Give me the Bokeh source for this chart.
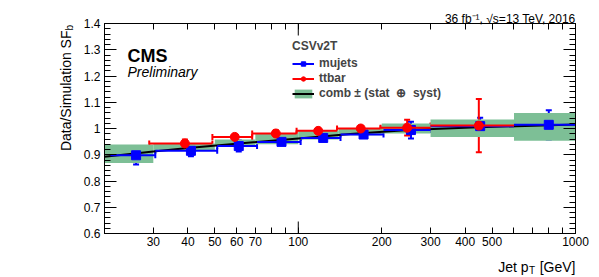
import math
from bokeh.plotting import figure
from bokeh.models import (ColumnDataSource, Whisker, TeeHead, FixedTicker, LogAxis,
                          LinearAxis, Label, Legend, LegendItem, Range1d)
from bokeh.embed import file_html
from bokeh.resources import INLINE

# ---------------- data ----------------
mujets_lo = [21, 30.5, 51, 71, 102, 142, 203, 300, 600]
mujets_hi = [30.5, 51, 71, 102, 142, 203, 300, 600, 1000]
mujets_pt = [26, 41, 61, 87, 123, 172, 255, 453, 801]
mujets_sf = [0.898, 0.915, 0.933, 0.949, 0.964, 0.977, 0.994, 1.009, 1.014]
mujets_err = [0.035, 0.021, 0.021, 0.011, 0.009, 0.010, 0.032, 0.032, 0.056]

ttbar_lo = [29, 49, 68.2, 98.6, 138, 198, 300]
ttbar_hi = [49, 68.2, 98.6, 138, 198, 300, 600]
ttbar_pt = [39, 59, 83, 118, 168, 247, 448]
ttbar_sf = [0.943, 0.968, 0.981, 0.991, 1.000, 1.003, 1.011]
ttbar_err = [0.015, 0.008, 0.012, 0.008, 0.010, 0.030, 0.101]

comb_lo = [20, 30, 50, 70, 100, 140, 200, 300, 600]
comb_hi = [30, 50, 70, 100, 140, 200, 300, 600, 1000]
comb_sf = [0.904, 0.930, 0.947, 0.960, 0.975, 0.987, 1.000, 1.001, 1.006]
comb_err = [0.035, 0.013, 0.011, 0.020, 0.017, 0.013, 0.019, 0.033, 0.053]

fit_pt = [20, 30, 40, 57, 100, 154, 250, 420, 1000]
fit_sf = [0.892, 0.912, 0.926, 0.940, 0.962, 0.979, 0.994, 1.004, 1.015]

x_ticks = [30, 40, 50, 60, 70, 100, 200, 300, 400, 500, 1000]
x_tick_labels = ["30", "40", "50", "60", "70", "100", "200", "300", "400", "500", "1000"]
x_minor_ticks = [80, 90, 600, 700, 800, 900]
x_long_ticks = [100]
y_ticks = [0.6, 0.7, 0.8, 0.9, 1.0, 1.1, 1.2, 1.3, 1.4]
y_tick_labels = ["0.6", "0.7", "0.8", "0.9", "1", "1.1", "1.2", "1.3", "1.4"]
y_minor_ticks = [round(0.6 + 0.02 * i, 2) for i in range(41) if i % 5 != 0]

FONT = "Liberation Sans"
BLUE = "#0000ff"
RED = "#ff0000"
GREEN = "#7dbf96"

# frame geometry (pixels in the page)
FL, FT, FW, FH = 104, 23, 471, 210

# ---------------- figure ----------------
p = figure(width=599, height=277, x_axis_type="log",
           x_range=Range1d(20, 1000), y_range=Range1d(0.6, 1.4),
           output_backend="svg", toolbar_location=None,
           min_border_left=FL, min_border_right=599 - FL - FW,
           min_border_top=FT, min_border_bottom=277 - FT - FH)
p.grid.visible = False
p.outline_line_color = "black"
p.outline_line_width = 1
p.background_fill_color = "white"
p.border_fill_color = "white"

def style_common(ax):
    ax.axis_line_color = "black"
    ax.major_tick_line_color = "black"
    ax.minor_tick_line_color = "black"
    ax.major_tick_out = 0
    ax.minor_tick_out = 0
    ax.major_label_text_font = FONT
    ax.major_label_text_color = "black"
    ax.major_label_text_font_size = "12px"

def style_x(ax, labels=True):
    ax.ticker = FixedTicker(ticks=x_ticks, minor_ticks=x_minor_ticks)
    ax.major_label_overrides = {t: (l if labels else "") for t, l in zip(x_ticks, x_tick_labels)}
    ax.major_tick_in = 6
    ax.minor_tick_in = 6
    ax.major_label_standoff = 3
    style_common(ax)

def style_y(ax, labels=True):
    ax.ticker = FixedTicker(ticks=y_ticks, minor_ticks=y_minor_ticks)
    ax.major_label_overrides = {t: (l if labels else "") for t, l in zip(y_ticks, y_tick_labels)}
    ax.major_tick_in = 12
    ax.minor_tick_in = 6
    ax.major_label_standoff = 4
    style_common(ax)

style_x(p.xaxis[0])
style_y(p.yaxis[0])
top = LogAxis()
style_x(top, labels=False)
p.add_layout(top, "above")
right = LinearAxis()
style_y(right, labels=False)
p.add_layout(right, "right")

# longer decade ticks (bottom and top)
tick_len = 12 * 0.8 / FH
p.segment(x0=x_long_ticks, x1=x_long_ticks, y0=[0.6] * len(x_long_ticks),
          y1=[0.6 + tick_len] * len(x_long_ticks), line_color="black", line_width=1)
p.segment(x0=x_long_ticks, x1=x_long_ticks, y0=[1.4] * len(x_long_ticks),
          y1=[1.4 - tick_len] * len(x_long_ticks), line_color="black", line_width=1)

# ---------------- combined band + fit ----------------
comb_src = ColumnDataSource(dict(
    left=comb_lo, right=comb_hi,
    bottom=[c - e for c, e in zip(comb_sf, comb_err)],
    top=[c + e for c, e in zip(comb_sf, comb_err)]))
band = p.quad(left="left", right="right", bottom="bottom", top="top", source=comb_src,
              fill_color=GREEN, line_color=None)
fit = p.line(fit_pt, fit_sf, line_color="black", line_width=2)

# ---------------- points ----------------
def points(lo, hi, pt, sf, err, color, marker, size):
    src = ColumnDataSource(dict(lo=lo, hi=hi, pt=pt, sf=sf,
                                ylo=[s - e for s, e in zip(sf, err)],
                                yhi=[s + e for s, e in zip(sf, err)]))
    seg = p.segment(x0="lo", x1="hi", y0="sf", y1="sf", source=src,
                    line_color=color, line_width=2)
    p.add_layout(Whisker(source=src, base="sf", lower="lo", upper="hi", dimension="width",
                         line_alpha=0,
                         upper_head=TeeHead(size=6, line_color=color, line_width=2),
                         lower_head=TeeHead(size=6, line_color=color, line_width=2)))
    p.add_layout(Whisker(source=src, base="pt", lower="ylo", upper="yhi", dimension="height",
                         line_color=color, line_width=2,
                         upper_head=TeeHead(size=6, line_color=color, line_width=2),
                         lower_head=TeeHead(size=6, line_color=color, line_width=2)))
    sc = p.scatter(x="pt", y="sf", source=src, marker=marker, size=size,
                   fill_color=color, line_color=color)
    return seg, sc

mu_seg, mu_sc = points(mujets_lo, mujets_hi, mujets_pt, mujets_sf, mujets_err, BLUE, "square", 9)
tt_seg, tt_sc = points(ttbar_lo, ttbar_hi, ttbar_pt, ttbar_sf, ttbar_err, RED, "circle", 9)

# ---------------- legend ----------------
legend = Legend(items=[
    LegendItem(label="mujets", renderers=[mu_seg, mu_sc]),
    LegendItem(label="ttbar", renderers=[tt_seg, tt_sc]),
    LegendItem(label="comb \u00b1 (stat\u00a0 \u2295\u00a0 syst)", renderers=[band, fit]),
], title="CSVv2T", location=(188, 133),
    title_text_font=FONT, title_text_font_style="bold", title_text_font_size="12px",
    label_text_font=FONT, label_text_font_style="bold", label_text_font_size="12px",
    border_line_color=None, background_fill_alpha=0,
    glyph_width=22, glyph_height=11, label_height=11, spacing=1, padding=0, margin=0,
    label_standoff=5, title_standoff=3)
p.add_layout(legend, "center")

# ---------------- texts (data units; page pixels converted) ----------------
def X(px):
    return 20 * 10 ** ((px - FL) / (FW / math.log10(1000 / 20)))

def Y(py):
    return 1.4 - (py - FT) * 0.8 / FH

def lab(text, px, py, size, style="normal", align="left", angle=0.0, place="center"):
    p.add_layout(Label(x=X(px), y=Y(py), text=text, text_font=FONT, text_font_size=size,
                       text_font_style=style, text_align=align, text_baseline="alphabetic",
                       text_color="black", angle=angle), place)

lab("CMS", 127, 55, "18px", "bold")
lab("Preliminary", 127, 71, "14px", "italic")
lab("36 fb\u207b\u00b9, \u221as=13 TeV, 2016", 575, 18, "12px", align="right", place="above")
# x axis title (pieces spread over side panels so none of them squeezes the frame)
lab("[GeV]", 575, 266, "14px", align="right", place="below")
lab("T", 534.5, 270, "10px", align="right", place="right")
lab("Jet p", 528, 266, "14px", align="right", place="left")
# y axis title
lab("Data/Simulation SF", 65, 30, "14px", align="right", angle=math.pi / 2, place="left")
lab("b", 69, 30, "10px", align="left", angle=math.pi / 2, place="left")

open("out.html", "w").write(file_html(p, INLINE))
